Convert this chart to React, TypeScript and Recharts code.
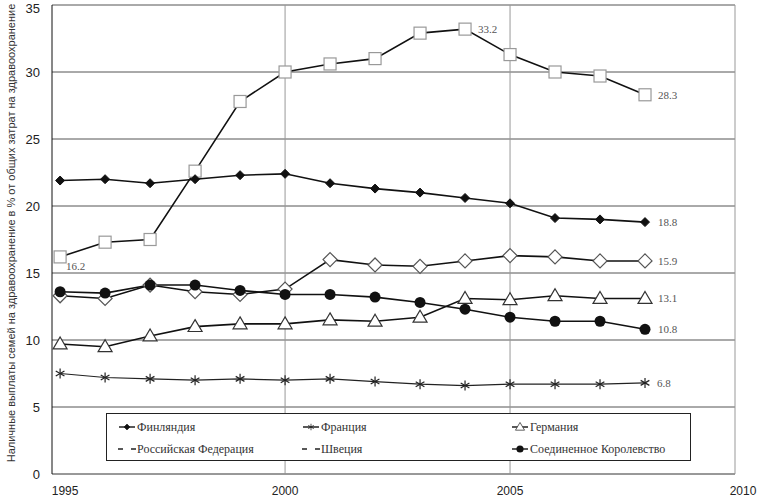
import React from 'react'
import { CartesianGrid, LabelList, Legend, Line, LineChart, ReferenceLine, XAxis, YAxis } from 'recharts'

const YEARS = [1995, 1996, 1997, 1998, 1999, 2000, 2001, 2002, 2003, 2004, 2005, 2006, 2007, 2008]
const FINLAND = [21.9, 22.0, 21.7, 22.0, 22.3, 22.4, 21.7, 21.3, 21.0, 20.6, 20.2, 19.1, 19.0, 18.8]
const FRANCE = [7.5, 7.2, 7.1, 7.0, 7.1, 7.0, 7.1, 6.9, 6.7, 6.6, 6.7, 6.7, 6.7, 6.8]
const GERMANY = [9.7, 9.5, 10.3, 11.0, 11.2, 11.2, 11.5, 11.4, 11.7, 13.1, 13.0, 13.3, 13.1, 13.1]
const RUSSIA = [16.2, 17.3, 17.5, 22.6, 27.8, 30.0, 30.6, 31.0, 32.9, 33.2, 31.3, 30.0, 29.7, 28.3]
const SWEDEN = [13.3, 13.1, 14.1, 13.6, 13.4, 13.8, 16.0, 15.6, 15.5, 15.9, 16.3, 16.2, 15.9, 15.9]
const UK = [13.6, 13.5, 14.1, 14.1, 13.7, 13.4, 13.4, 13.2, 12.8, 12.3, 11.7, 11.4, 11.4, 10.8]

const SERIES_NAMES = ['Финляндия', 'Франция', 'Германия', 'Российская Федерация', 'Швеция', 'Соединенное Королевство']
const X_TICKS = [1995, 2000, 2005, 2010]
const Y_TICKS = [0, 5, 10, 15, 20, 25, 30, 35]
const Y_TITLE = 'Наличные выплаты семей на здравоохранение в % от общих затрат на здравоохранение'

const data = YEARS.map((year, i) => ({
  year,
  fi: FINLAND[i],
  fr: FRANCE[i],
  de: GERMANY[i],
  ru: RUSSIA[i],
  se: SWEDEN[i],
  uk: UK[i],
}))

const SANS = '"Liberation Sans", Arial, sans-serif'
const SERIF = '"Liberation Serif", "DejaVu Serif", serif'

type Marker = 'fdiamond' | 'star' | 'triangle' | 'square' | 'odiamond' | 'circle' | 'none'

function MarkerShape({ kind, cx, cy }: { kind: Marker; cx: number; cy: number }) {
  if (kind === 'fdiamond') {
    const r = 4.5
    return <polygon points={`${cx},${cy - r} ${cx + r},${cy} ${cx},${cy + r} ${cx - r},${cy}`} fill="#111" stroke="#111" />
  }
  if (kind === 'star') {
    const r = 5
    return (
      <g stroke="#222" strokeWidth={1.2}>
        <line x1={cx} y1={cy - r} x2={cx} y2={cy + r} />
        <line x1={cx - r * 0.87} y1={cy - r * 0.5} x2={cx + r * 0.87} y2={cy + r * 0.5} />
        <line x1={cx - r * 0.87} y1={cy + r * 0.5} x2={cx + r * 0.87} y2={cy - r * 0.5} />
      </g>
    )
  }
  if (kind === 'triangle') {
    const r = 7
    return <polygon points={`${cx},${cy - r} ${cx + r},${cy + r * 0.7} ${cx - r},${cy + r * 0.7}`} fill="#fff" stroke="#333" strokeWidth={1.2} />
  }
  if (kind === 'square') {
    const r = 6
    return <rect x={cx - r} y={cy - r} width={r * 2} height={r * 2} fill="#fff" stroke="#999" strokeWidth={1.2} />
  }
  if (kind === 'odiamond') {
    const r = 7
    return <polygon points={`${cx},${cy - r} ${cx + r},${cy} ${cx},${cy + r} ${cx - r},${cy}`} fill="#fff" stroke="#555" strokeWidth={1.2} />
  }
  if (kind === 'circle') {
    return <circle cx={cx} cy={cy} r={5.5} fill="#111" />
  }
  return null
}

function dotFor(kind: Marker, prefix: string) {
  return (props: any) => (
    <g key={`${prefix}-${props.index}`}>
      <MarkerShape kind={kind} cx={props.cx} cy={props.cy} />
    </g>
  )
}

function valueLabel(indices: number[], dx: number, dy: number) {
  return (props: any) => {
    const { x, y, value, index } = props
    if (!indices.includes(index)) return null
    return (
      <text x={Number(x) + dx} y={Number(y) + dy} fontSize={11} fontFamily={SERIF} fill="#555">
        {Number(value).toFixed(1)}
      </text>
    )
  }
}

const LAST = [YEARS.length - 1]

function XTick({ x, y, payload }: any) {
  const shift = payload.value === 1995 ? 5 : payload.value === 2010 ? 8 : 0
  return (
    <text x={x + shift} y={y + 13} textAnchor="middle" fontSize={12} fontFamily={SANS} fill="#222">
      {payload.value}
    </text>
  )
}

function YTitle() {
  return (
    <text
      x={11}
      y={233}
      transform="rotate(-90 11 233)"
      textAnchor="middle"
      dominantBaseline="central"
      fontSize={11}
      fontFamily={SANS}
      fill="#333"
    >
      {Y_TITLE}
    </text>
  )
}

const LEGEND_MARKERS: Marker[] = ['fdiamond', 'star', 'triangle', 'none', 'none', 'circle']

function LegendIcon({ kind }: { kind: Marker }) {
  if (kind === 'none') {
    return (
      <svg width={20} height={10} style={{ verticalAlign: 'middle' }}>
        <line x1={1} y1={5} x2={19} y2={5} stroke="#222" strokeWidth={1.5} strokeDasharray="5 8" />
      </svg>
    )
  }
  return (
    <svg width={20} height={12} style={{ verticalAlign: 'middle' }}>
      <line x1={2} y1={6} x2={18} y2={6} stroke="#222" strokeWidth={1.5} />
      <g transform="translate(10,6) scale(0.65) translate(-10,-6)">
        <MarkerShape kind={kind} cx={10} cy={6} />
      </g>
    </svg>
  )
}

function LegendBox() {
  const cols = [0, 184, 393]
  return (
    <div
      style={{
        width: 583,
        height: 46,
        border: '1px solid #222',
        background: '#fff',
        position: 'relative',
      }}
    >
      {SERIES_NAMES.map((name, i) => (
        <div
          key={name}
          style={{
            position: 'absolute',
            left: 10 + cols[i % 3],
            top: i < 3 ? 5 : 27,
            whiteSpace: 'nowrap',
            lineHeight: '14px',
          }}
        >
          <LegendIcon kind={LEGEND_MARKERS[i]} />
          <span style={{ fontFamily: SERIF, fontSize: 12, color: '#333' }}>{name}</span>
        </div>
      ))}
    </div>
  )
}

export default function App() {
  return (
    <div style={{ position: 'absolute', left: 0, top: 0, width: 757, height: 500, background: '#fff' }}>
      <LineChart width={757} height={500} data={data} margin={{ top: 5, right: 22, bottom: 0, left: 0 }}>
        <CartesianGrid vertical={false} stroke="#555" strokeWidth={1} />
        <XAxis
          dataKey="year"
          type="number"
          domain={[1994.82, 2010]}
          ticks={X_TICKS}
          tick={<XTick />}
          tickLine={false}
          axisLine={{ stroke: '#888' }}
          height={26}
          allowDataOverflow
        />
        <YAxis
          domain={[0, 35]}
          ticks={Y_TICKS}
          width={52}
          tickLine={false}
          axisLine={{ stroke: '#111' }}
          tick={{ fontSize: 13, fontFamily: SANS, fill: '#222' }}
          tickMargin={6}
          label={{ content: () => <YTitle /> }}
        />
        <ReferenceLine x={2000} stroke="#999" />
        <ReferenceLine x={2005} stroke="#999" />
        <ReferenceLine x={2010} stroke="#999" />
        <Legend
          layout="horizontal"
          verticalAlign="middle"
          align="center"
          wrapperStyle={{ left: 106, top: 413, width: 585, height: 48 }}
          content={() => <LegendBox />}
        />
        <Line dataKey="ru" name={SERIES_NAMES[3]} stroke="#111" strokeWidth={1.6} dot={dotFor('square', 'ru')} isAnimationActive={false}>
          <LabelList dataKey="ru" content={valueLabel([0], 6, 13)} />
        </Line>
        <Line dataKey="fi" name={SERIES_NAMES[0]} stroke="#111" strokeWidth={1.6} dot={dotFor('fdiamond', 'fi')} isAnimationActive={false}>
          <LabelList dataKey="fi" content={valueLabel(LAST, 13, 4)} />
        </Line>
        <Line dataKey="fr" name={SERIES_NAMES[1]} stroke="#222" strokeWidth={1.2} dot={dotFor('star', 'fr')} isAnimationActive={false}>
          <LabelList dataKey="fr" content={valueLabel(LAST, 12, 4)} />
        </Line>
        <Line dataKey="de" name={SERIES_NAMES[2]} stroke="#111" strokeWidth={1.6} dot={dotFor('triangle', 'de')} isAnimationActive={false}>
          <LabelList dataKey="de" content={valueLabel(LAST, 13, 4)} />
        </Line>
        <Line dataKey="se" name={SERIES_NAMES[4]} stroke="#111" strokeWidth={1.6} dot={dotFor('odiamond', 'se')} isAnimationActive={false}>
          <LabelList dataKey="se" content={valueLabel(LAST, 13, 4)} />
        </Line>
        <Line dataKey="uk" name={SERIES_NAMES[5]} stroke="#111" strokeWidth={1.6} dot={dotFor('circle', 'uk')} isAnimationActive={false}>
          <LabelList dataKey="uk" content={valueLabel(LAST, 13, 4)} />
        </Line>
        <Line dataKey="ru" legendType="none" stroke="none" dot={false} activeDot={false} isAnimationActive={false}>
          <LabelList dataKey="ru" content={valueLabel([9, 13], 13, 4)} />
        </Line>
      </LineChart>
    </div>
  )
}
